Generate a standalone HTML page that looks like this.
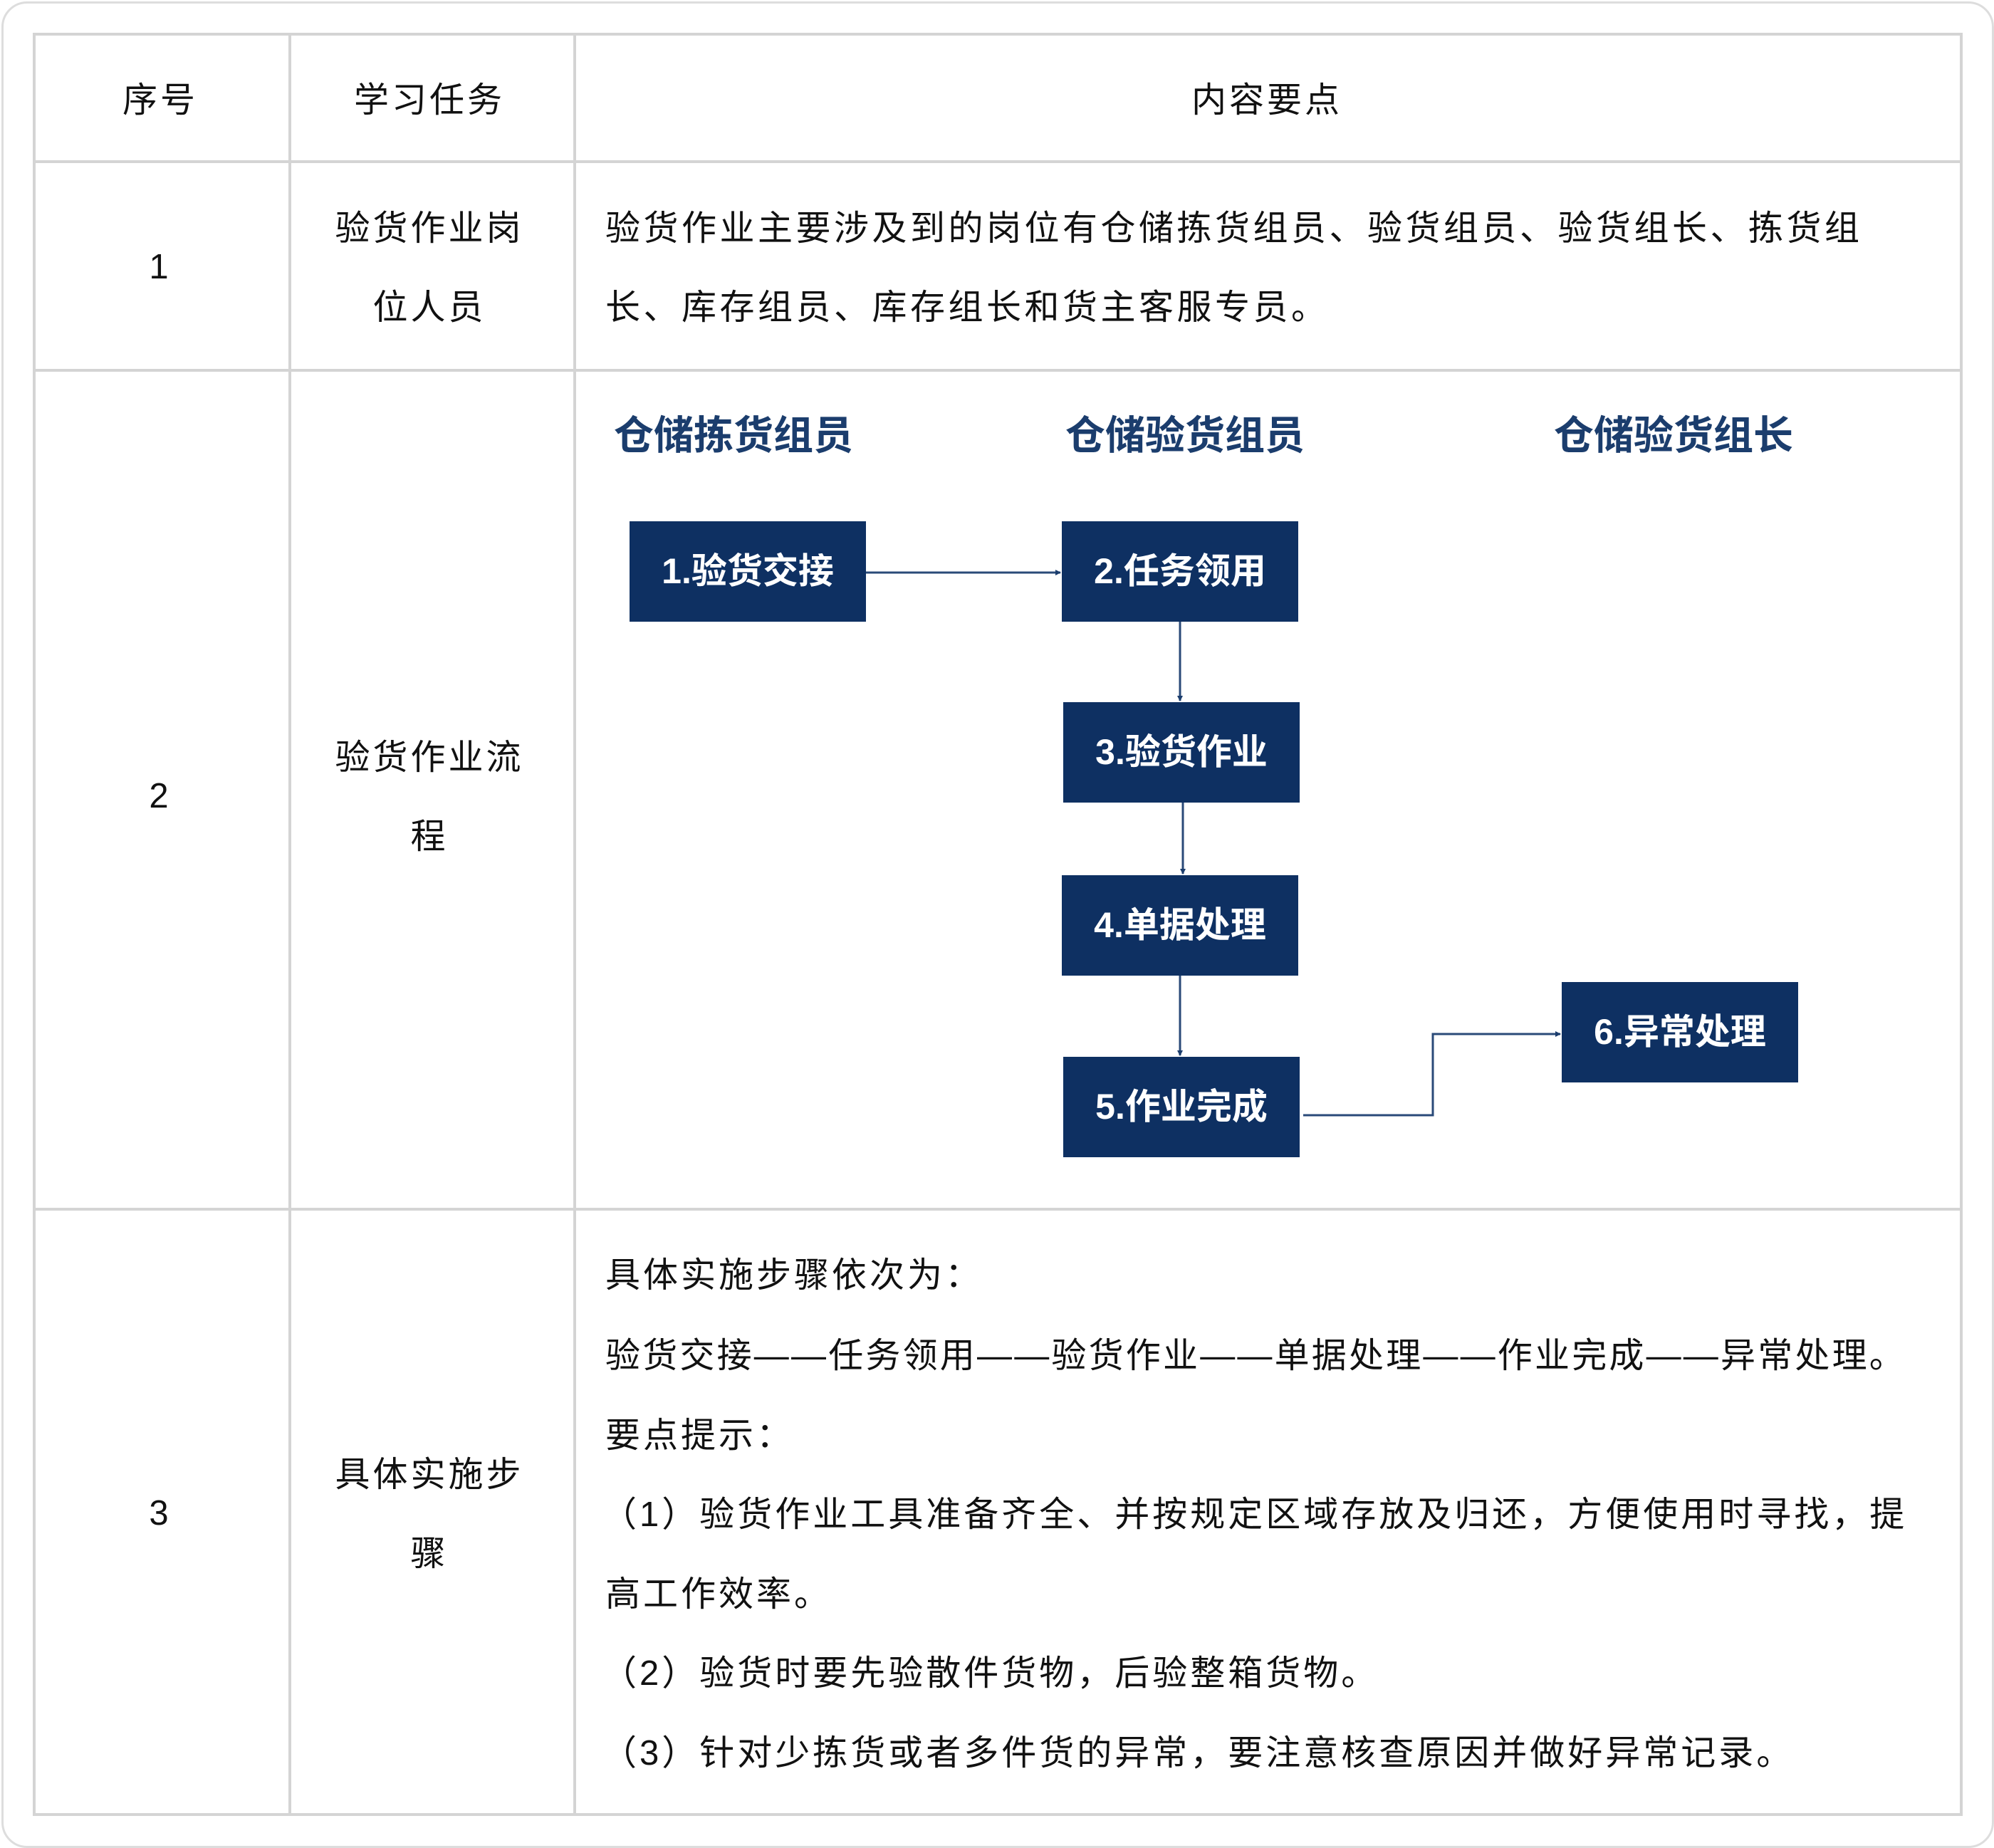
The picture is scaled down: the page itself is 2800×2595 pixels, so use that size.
<!DOCTYPE html>
<html><head><meta charset="utf-8"><style>
body{margin:0;width:2800px;height:2595px;background:#fff;position:relative;overflow:hidden;font-family:"Liberation Sans","Noto Sans CJK SC",sans-serif;color:#111}
.frame{position:absolute;left:2px;top:2px;width:2792px;height:2587px;border:3px solid #ddd;border-radius:36px}
.h{position:absolute;background:#d4d4d4;height:4px}
.v{position:absolute;background:#d4d4d4;width:4px}
.t{position:absolute;font-size:49px;line-height:70px;white-space:nowrap;letter-spacing:4px}
.c{transform:translateX(-50%)}
.hd{position:absolute;font-size:56px;font-weight:bold;color:#1b3d6d;line-height:70px;white-space:nowrap;transform:translateX(-50%)}
.b{position:absolute;width:332px;height:141px;background:#0e3062;color:#fff;font-weight:bold;font-size:50px;line-height:141px;text-align:center}
</style></head><body>
<div class="frame"></div>
<div class="h" style="left:48px;top:46px;width:2708px"></div>
<div class="h" style="left:48px;top:225px;width:2708px"></div>
<div class="h" style="left:48px;top:518px;width:2708px"></div>
<div class="h" style="left:48px;top:1696px;width:2708px"></div>
<div class="h" style="left:48px;top:2546px;width:2708px"></div>
<div class="v" style="left:46px;top:46px;height:2504px"></div>
<div class="v" style="left:405px;top:46px;height:2504px"></div>
<div class="v" style="left:805px;top:46px;height:2504px"></div>
<div class="v" style="left:2752px;top:46px;height:2504px"></div>

<div class="t c" style="left:225px;top:106px">序号</div>
<div class="t c" style="left:603px;top:106px">学习任务</div>
<div class="t c" style="left:1779px;top:106px">内容要点</div>

<div class="t c" style="left:225px;top:340px">1</div>
<div class="t c" style="left:603px;top:286px">验货作业岗</div>
<div class="t c" style="left:603px;top:397px">位人员</div>
<div class="t" style="left:850px;top:286px;letter-spacing:4.5px">验货作业主要涉及到的岗位有仓储拣货组员、验货组员、验货组长、拣货组</div>
<div class="t" style="left:850px;top:397px;letter-spacing:4.5px">长、库存组员、库存组长和货主客服专员。</div>

<div class="t c" style="left:225px;top:1083px">2</div>
<div class="t c" style="left:603px;top:1029px">验货作业流</div>
<div class="t c" style="left:603px;top:1140px">程</div>

<div class="hd" style="left:1030px;top:577px">仓储拣货组员</div>
<div class="hd" style="left:1664px;top:577px">仓储验货组员</div>
<div class="hd" style="left:2350px;top:577px">仓储验货组长</div>

<div class="b" style="left:884px;top:732px">1.验货交接</div>
<div class="b" style="left:1491px;top:732px">2.任务领用</div>
<div class="b" style="left:1493px;top:986px">3.验货作业</div>
<div class="b" style="left:1491px;top:1229px">4.单据处理</div>
<div class="b" style="left:1493px;top:1484px">5.作业完成</div>
<div class="b" style="left:2193px;top:1379px">6.异常处理</div>

<svg style="position:absolute;left:0;top:0" width="2800" height="2595">
<defs><marker id="a" markerWidth="8" markerHeight="8" refX="7" refY="4" orient="auto" markerUnits="userSpaceOnUse"><path d="M0,0L8,4L0,8z" fill="#1b3d6d"/></marker></defs>
<g stroke="#2a4a78" stroke-width="3" fill="none" marker-end="url(#a)">
<path d="M1216,804H1489"/>
<path d="M1657,873V984"/>
<path d="M1661,1127V1227"/>
<path d="M1657,1370V1482"/>
<path d="M1830,1566H2012V1452H2191"/>
</g></svg>

<div class="t c" style="left:225px;top:2090px">3</div>
<div class="t c" style="left:603px;top:2036px">具体实施步</div>
<div class="t c" style="left:603px;top:2147px">骤</div>
<div class="t" style="left:850px;top:1756px">具体实施步骤依次为：</div>
<div class="t" style="left:850px;top:1869px;letter-spacing:3.2px">验货交接——任务领用——验货作业——单据处理——作业完成——异常处理。</div>
<div class="t" style="left:850px;top:1981px">要点提示：</div>
<div class="t" style="left:845px;top:2092px">（1）验货作业工具准备齐全、并按规定区域存放及归还，方便使用时寻找，提</div>
<div class="t" style="left:850px;top:2204px">高工作效率。</div>
<div class="t" style="left:845px;top:2315px">（2）验货时要先验散件货物，后验整箱货物。</div>
<div class="t" style="left:845px;top:2427px">（3）针对少拣货或者多件货的异常，要注意核查原因并做好异常记录。</div>
</body></html>
